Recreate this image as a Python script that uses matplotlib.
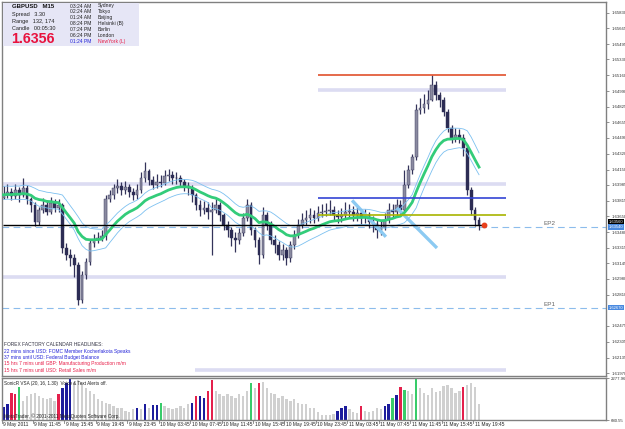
import numpy as np
import pandas as pd
import matplotlib.pyplot as plt
import matplotlib.transforms as mtransforms
from matplotlib.patches import Rectangle

plt.rcParams['font.family'] = ['Liberation Sans', 'DejaVu Sans']

W, H = 625, 429

# GBPUSD, one value per bar (each bar here = 30 min)
close = [1.6388, 1.6391, 1.6387, 1.6393, 1.6388, 1.6395, 1.6384, 1.6377, 1.6359, 1.6372,
         1.6377, 1.6370, 1.6379, 1.6374, 1.6377, 1.6331, 1.6324, 1.6320, 1.6313, 1.6275,
         1.6302, 1.6316, 1.6336, 1.6340, 1.6342, 1.6344, 1.6384, 1.6388, 1.6395, 1.6397,
         1.6393, 1.6396, 1.6391, 1.6388, 1.6393, 1.6406, 1.6413, 1.6404, 1.6399, 1.6402,
         1.6401, 1.6408, 1.6409, 1.6406, 1.6406, 1.6402, 1.6397, 1.6395, 1.6388, 1.6377,
         1.6372, 1.6374, 1.6370, 1.6372, 1.6377, 1.6366, 1.6356, 1.6350, 1.6342, 1.6340,
         1.6347, 1.6363, 1.6377, 1.6350, 1.6340, 1.6324, 1.6366, 1.6356, 1.6340, 1.6334,
         1.6324, 1.6329, 1.6320, 1.6334, 1.6345, 1.6356, 1.6361, 1.6363, 1.6366, 1.6363,
         1.6369, 1.6370, 1.6371, 1.6372, 1.6366, 1.6364, 1.6366, 1.6370, 1.6370, 1.6366,
         1.6368, 1.6363, 1.6366, 1.6359, 1.6357, 1.6350, 1.6353, 1.6361, 1.6372, 1.6370,
         1.6377, 1.6372, 1.6399, 1.6415, 1.6428, 1.6479, 1.6481, 1.6485, 1.6490, 1.6506,
         1.6495, 1.6490, 1.6477, 1.6460, 1.6449, 1.6452, 1.6449, 1.6438, 1.6393, 1.6372,
         1.6361, 1.6356]
high = [1.6397, 1.6400, 1.6395, 1.6400, 1.6396, 1.6406, 1.6398, 1.6386, 1.6380, 1.6375,
        1.6385, 1.6382, 1.6386, 1.6383, 1.6384, 1.6379, 1.6336, 1.6330, 1.6325, 1.6316,
        1.6306, 1.6320, 1.6340, 1.6346, 1.6348, 1.6350, 1.6388, 1.6393, 1.6400, 1.6405,
        1.6402, 1.6403, 1.6400, 1.6395, 1.6400, 1.6412, 1.6423, 1.6416, 1.6408, 1.6410,
        1.6409, 1.6415, 1.6416, 1.6414, 1.6412, 1.6409, 1.6405, 1.6402, 1.6398, 1.6390,
        1.6382, 1.6381, 1.6380, 1.6380, 1.6385, 1.6380, 1.6369, 1.6360, 1.6353, 1.6348,
        1.6352, 1.6368, 1.6384, 1.6380, 1.6354, 1.6343, 1.6375, 1.6370, 1.6360, 1.6345,
        1.6338, 1.6335, 1.6332, 1.6338, 1.6350, 1.6362, 1.6368, 1.6372, 1.6374, 1.6372,
        1.6376, 1.6378, 1.6379, 1.6382, 1.6376, 1.6372, 1.6374, 1.6380, 1.6378, 1.6376,
        1.6375, 1.6372, 1.6373, 1.6370, 1.6365, 1.6362, 1.6360, 1.6368, 1.6379, 1.6378,
        1.6383, 1.6382, 1.6415, 1.6420, 1.6432, 1.6485, 1.6492, 1.6496, 1.6500, 1.6516,
        1.6510, 1.6498, 1.6493, 1.6480, 1.6463, 1.6460, 1.6458, 1.6453, 1.6441, 1.6396,
        1.6375, 1.6364]
low = [1.6383, 1.6385, 1.6382, 1.6384, 1.6380, 1.6386, 1.6378, 1.6370, 1.6355, 1.6356,
       1.6368, 1.6366, 1.6367, 1.6370, 1.6370, 1.6326, 1.6318, 1.6312, 1.6300, 1.6270,
       1.6272, 1.6298, 1.6313, 1.6332, 1.6336, 1.6338, 1.6340, 1.6380, 1.6384, 1.6390,
       1.6388, 1.6389, 1.6386, 1.6382, 1.6384, 1.6390, 1.6402, 1.6398, 1.6394, 1.6395,
       1.6396, 1.6398, 1.6403, 1.6400, 1.6400, 1.6397, 1.6392, 1.6388, 1.6380, 1.6372,
       1.6365, 1.6367, 1.6362, 1.6324, 1.6368, 1.6360, 1.6350, 1.6343, 1.6333, 1.6327,
       1.6335, 1.6344, 1.6360, 1.6345, 1.6332, 1.6314, 1.6320, 1.6350, 1.6335, 1.6326,
       1.6318, 1.6318, 1.6313, 1.6316, 1.6330, 1.6342, 1.6352, 1.6356, 1.6358, 1.6358,
       1.6360, 1.6364, 1.6365, 1.6366, 1.6360, 1.6358, 1.6359, 1.6362, 1.6364, 1.6360,
       1.6360, 1.6357, 1.6358, 1.6352, 1.6348, 1.6342, 1.6345, 1.6350, 1.6358, 1.6364,
       1.6365, 1.6366, 1.6370, 1.6395, 1.6410, 1.6425, 1.6474, 1.6476, 1.6480, 1.6488,
       1.6490, 1.6482, 1.6472, 1.6455, 1.6443, 1.6445, 1.6444, 1.6430, 1.6388, 1.6366,
       1.6355, 1.6350]
first_open = 1.6385

volume = [1160, 1280, 1720, 1680, 1920, 1400, 1600, 1680, 1720, 1600,
          1520, 1480, 1520, 1400, 1680, 1880, 2080, 2300, 2120, 2200,
          2080, 1880, 1800, 1680, 1480, 1400, 1320, 1280, 1200, 1120,
          1120, 1040, 1000, 1080, 1120, 1080, 1280, 1120, 1240, 1240,
          1320, 1200, 1120, 1080, 1120, 1200, 1120, 1280, 1320, 1600,
          1600, 1520, 1800, 2200, 1800, 1680, 1600, 1680, 1600, 1520,
          1680, 1600, 1800, 2080, 1880, 2080, 2120, 1880, 1720, 1680,
          1520, 1600, 1480, 1400, 1480, 1320, 1280, 1280, 1120, 1120,
          1000, 880, 880, 880, 920, 1040, 1120, 1200, 1080, 1000,
          960, 1200, 1040, 1000, 1040, 1120, 1080, 1200, 1280, 1520,
          1640, 1920, 1840, 1800, 1680, 2280, 1880, 1720, 1640, 1880,
          1760, 1800, 1960, 2000, 1880, 1720, 1800, 1920, 2000, 2080,
          1920, 1280]
# g = normal, b = blue, r = red, n = green (VSA signal colours)
volume_kind = ("bbrrnggggg" "ggggrbbbgg" "gggggggggg" "ggggbgbgbb" "ngggggggbr"
               "bbrrgggggg" "gggngrgggg" "gggggggggg" "gggggbbbgg" "grgggggbbn"
               "brnggngggg" "gggggggrgg" "gg")
vol_min, vol_max = 680.55, 2277.96

price_ticks = [1.65830, 1.65665, 1.65495, 1.65330, 1.65160, 1.64990, 1.64825, 1.64655,
               1.64490, 1.64320, 1.64150, 1.63985, 1.63815, 1.63650, 1.63480, 1.63315,
               1.63145, 1.62980, 1.62810, 1.62475, 1.62305, 1.62135, 1.61970]
date_labels = ["9 May 2011", "9 May 11:45", "9 May 15:45", "9 May 19:45", "9 May 23:45",
               "10 May 03:45", "10 May 07:45", "10 May 11:45", "10 May 15:45",
               "10 May 19:45", "10 May 23:45", "11 May 03:45", "11 May 07:45",
               "11 May 11:45", "11 May 15:45", "11 May 19:45"]

round_levels = [1.650, 1.640, 1.630, 1.620]
red_level = 1.6516
blue_level = 1.6385
olive_level = 1.6366
bid = 1.6356
ep2 = 1.6354
ep1 = 1.6267
trend_lines = [([88.7, 97.3], [1.6382, 1.6343]),
               ([100.1, 110.3], [1.6374, 1.6331])]

clock_times = ["03:24 AM", "02:24 AM", "01:24 AM", "08:24 PM", "07:24 PM", "06:24 PM", "01:24 PM"]
clock_cities = ["Sydney", "Tokyo", "Beijing", "Helsinki (B)", "Berlin", "London", "NewYork (L)"]
news = [("FOREX FACTORY CALENDAR HEADLINES:", '#333344'),
        ("22 mins since USD: FOMC Member Kocherlakota Speaks", '#2424d8'),
        ("37 mins until USD: Federal Budget Balance", '#2424d8'),
        ("15 hrs 7 mins until GBP: Manufacturing Production m/m", '#e8204a'),
        ("15 hrs 7 mins until USD: Retail Sales m/m", '#e8204a')]


def fx(px):
    return px / W


def fy(py):
    return 1 - py / H


def bar_at(px):
    # pixel column -> bar index
    return (px - 3.5) / 3.93


fig = plt.figure(figsize=(W / 100, H / 100), dpi=100)
fig.patch.set_facecolor('white')
ax = fig.add_axes([fx(2), fy(376), fx(606) - fx(2), fy(2) - fy(376)])
vax = fig.add_axes([fx(2), fy(420), fx(606) - fx(2), fy(378) - fy(420)])

n = len(close)
x = np.arange(n)
c = np.array(close)
o = np.array([first_open] + close[:-1])
up = c >= o

xlim = (bar_at(2), bar_at(606))
for a in (ax, vax):
    a.set_xlim(*xlim)
    a.set_facecolor('white')
    for s in a.spines.values():
        s.set_color('#808080')
        s.set_linewidth(1)
    a.set_xticks([])
ax.set_ylim(1.61939, 1.65945)

# horizontal levels
ax.hlines(round_levels[0], bar_at(318), bar_at(506), color='#dcdcf2', lw=2.6, zorder=1)
ax.hlines(round_levels[1:3], bar_at(3), bar_at(506), color='#dcdcf2', lw=2.6, zorder=1)
ax.hlines(round_levels[3], bar_at(195), bar_at(506), color='#dcdcf2', lw=2.6, zorder=1)
for lv in (ep2, ep1):
    ax.axhline(lv, color='#8cbcec', lw=0.8, ls=(0, (6, 4)), zorder=1.2)

# candles
ax.vlines(x, low, high, color='#34345a', lw=0.9, zorder=2)
ax.bar(x[up], np.maximum(c[up] - o[up], 0.00004), bottom=o[up], width=0.7,
       color='#8a8aa0', edgecolor='#34345a', lw=0.3, zorder=2.1)
ax.bar(x[~up], o[~up] - c[~up], bottom=c[~up], width=0.7,
       color='#2c2c54', edgecolor='#2c2c54', lw=0.3, zorder=2.1)

# EMA dragon (close) with high/low bands
ema_c = pd.Series(close).ewm(span=17, adjust=False).mean()
ema_h = pd.Series(high).ewm(span=17, adjust=False).mean()
ema_l = pd.Series(low).ewm(span=17, adjust=False).mean()
ax.plot(x, ema_h, color='#7cc0f0', lw=0.6, zorder=2.5)
ax.plot(x, ema_l, color='#7cc0f0', lw=0.6, zorder=2.5)
ax.plot(x, ema_c, color='#33cc7a', lw=2.0, zorder=2.6)

for tx, ty in trend_lines:
    ax.plot(tx, ty, color='#8ccaf2', lw=2.4, solid_capstyle='butt', zorder=2.4)

ax.hlines(red_level, bar_at(318), bar_at(506), color='#e0502c', lw=1.2, zorder=3)
ax.hlines(blue_level, bar_at(318), bar_at(506), color='#3444d4', lw=1.2, zorder=3)
ax.hlines(olive_level, bar_at(318), bar_at(506), color='#a8b400', lw=1.2, zorder=3)
ax.hlines(bid, bar_at(3), bar_at(484), color='black', lw=1.0, zorder=4)
ax.plot([bar_at(484)], [bid], 'o', color='#e8401c', ms=3.2, zorder=5)

ax.text(bar_at(543), ep2 + 0.0001, "EP2", fontsize=4.6, color='#666666', va='bottom', ha='left')
ax.text(bar_at(543), ep1 + 0.0001, "EP1", fontsize=4.6, color='#666666', va='bottom', ha='left')

# right price scale
ax.yaxis.tick_right()
ax.set_yticks(price_ticks)
ax.set_yticklabels([f"{v:.5f}" for v in price_ticks])
ax.tick_params(axis='y', direction='out', length=2.2, width=0.6, color='#808080',
               labelsize=3.1, labelcolor='#333333', pad=1.5)
tr = mtransforms.blended_transform_factory(ax.transAxes, ax.transData)
# bid tag sits just above the EP2 tag, as on the terminal
for val, shift, fc in ((bid, 0.00031, 'black'), (ep2, -0.00005, '#4a8ae0'), (ep1, 0.0, '#4a8ae0')):
    ax.text(1.004, val + shift, f"{val:.5f}", transform=tr, fontsize=3.0, color='white',
            va='center', ha='left', zorder=6,
            bbox=dict(boxstyle='square,pad=0.15', fc=fc, ec='none'))

# volume window
colors = {'g': '#d0d0d0', 'b': '#1c1c9c', 'r': '#e4204c', 'n': '#38cc6a'}
vax.bar(x, np.array(volume) - vol_min, bottom=vol_min, width=0.6,
        color=[colors[k] for k in volume_kind], lw=0)
vax.set_ylim(vol_min, vol_max)
vax.yaxis.tick_right()
vax.set_yticks([vol_max, vol_min])
vax.set_yticklabels([f"{vol_max:.2f}", f"{vol_min:.2f}"])
vax.tick_params(axis='y', direction='out', length=2.2, width=0.6, color='#808080',
                labelsize=3.1, labelcolor='#333333', pad=1.5)
vax.text(0.003, 0.86, "SonicR VSA (20, 16, 1.30)  Voice & Text Alerts off.",
         transform=vax.transAxes, fontsize=3.3, color='#222222', va='center')
vax.text(0.003, 0.1, "MetaTrader, \u00a9 2001-2011 MetaQuotes Software Corp.",
         transform=vax.transAxes, fontsize=3.4, color='#222222', va='center')

# time labels under the volume window
for k, lab in enumerate(date_labels):
    bx = 8 * k - 0.5
    px = 3.5 + 3.93 * bx
    fig.add_artist(plt.Line2D([fx(px), fx(px)], [fy(420), fy(423)], color='#808080', lw=0.6))
    fig.text(fx(px + 1.5), fy(424.5), lab, fontsize=3.5, color='#222222', va='center', ha='left')

# info panel
fig.add_artist(Rectangle((fx(3), fy(46)), fx(139) - fx(3), fy(3) - fy(46),
                         transform=fig.transFigure, fc='#e6e6f6', ec='none', zorder=10))
fig.text(fx(12), fy(6.5), "GBPUSD   M15", fontsize=4.3, weight='bold', color='#111111',
         va='center', zorder=11)
fig.text(fx(12), fy(14.7), "Spread   3.30", fontsize=4.0, color='#222222', va='center', zorder=11)
fig.text(fx(12), fy(21.3), "Range   132, 174", fontsize=4.0, color='#222222', va='center', zorder=11)
fig.text(fx(12), fy(28), "Candle   00:05:30", fontsize=4.0, color='#222222', va='center', zorder=11)
fig.text(fx(11.5), fy(38.8), "1.6356", fontsize=10.3, weight='bold', color='#e8123e',
         va='center', zorder=11)
for k, (t, city) in enumerate(zip(clock_times, clock_cities)):
    last = k == len(clock_times) - 1
    yy = fy(6 + k * 5.85)
    fig.text(fx(70), yy, t, fontsize=3.6, color='#2424d8' if last else '#222222',
             va='center', zorder=11)
    fig.text(fx(97.5), yy, city, fontsize=3.6, color='#e8204a' if last else '#222222',
             va='center', zorder=11)

# calendar headlines
for k, (t, col) in enumerate(news):
    fig.text(fx(3.5), fy(345 + k * 6.25), t, fontsize=3.5, color=col, va='center', zorder=11)

fig.savefig('out.png', dpi=100, facecolor='white')
